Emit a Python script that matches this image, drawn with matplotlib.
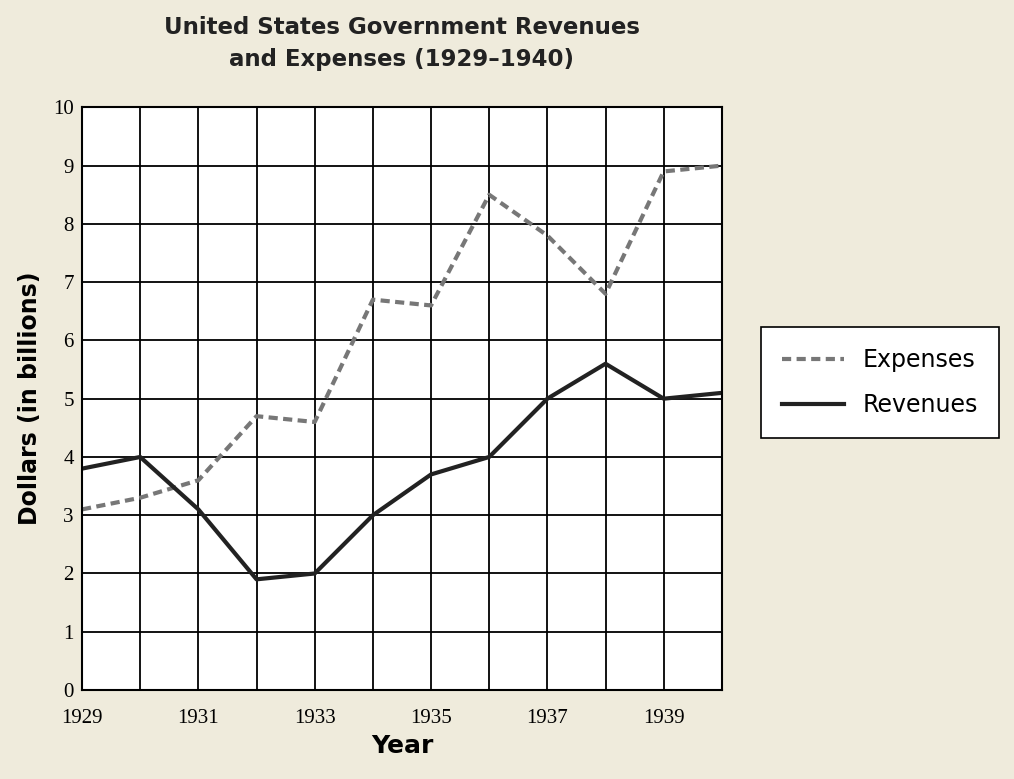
import matplotlib
matplotlib.use('Agg')
import matplotlib.pyplot as plt

years = list(range(1929, 1941))
expenses = [3.1, 3.3, 3.6, 4.7, 4.6, 6.7, 6.6, 8.5, 7.8, 6.8, 8.9, 9.0]
revenues = [3.8, 4.0, 3.1, 1.9, 2.0, 3.0, 3.7, 4.0, 5.0, 5.6, 5.0, 5.1]

bg = '#efebdc'
fig = plt.figure(figsize=(10.14, 7.79), dpi=100, facecolor=bg)
ax = fig.add_axes([0.0809, 0.1142, 0.631, 0.748])
ax.set_facecolor('white')

ax.plot(years, expenses, color='#777777', lw=3, ls=(0, (2.2, 1.3)), label='Expenses')
ax.plot(years, revenues, color='#222222', lw=3, label='Revenues')

ax.set_xlim(1929, 1940)
ax.set_ylim(0, 10)
ax.set_xticks(years)
ax.set_xticklabels([str(y) if (y - 1929) % 2 == 0 else '' for y in years],
                   family='Liberation Serif', fontsize=15)
ax.set_yticks(range(0, 11))
ax.set_yticklabels([str(i) for i in range(11)], family='Liberation Serif', fontsize=15)
ax.tick_params(axis='x', length=0, pad=14)
ax.tick_params(axis='y', length=0, pad=6)
ax.grid(True, color='black', lw=1.3)
for s in ax.spines.values():
    s.set_linewidth(1.5)

ax.set_xlabel('Year', fontsize=18, fontweight='bold', labelpad=4)
ax.set_ylabel('Dollars (in billions)', fontsize=17, fontweight='bold', labelpad=8)
ax.set_title('United States Government Revenues\nand Expenses (1929\u20131940)',
             fontsize=16.5, fontweight='bold', pad=30, color='#222222', linespacing=1.5)

leg = fig.legend(loc='center', bbox_to_anchor=(0.868, 0.509), fontsize=17,
                 frameon=True, fancybox=False, edgecolor='black', facecolor='white',
                 framealpha=1, handlelength=2.6, borderpad=0.9, labelspacing=0.9,
                 borderaxespad=0)
leg.get_frame().set_linewidth(1.2)

fig.savefig('out.png', dpi=100, facecolor=bg)
